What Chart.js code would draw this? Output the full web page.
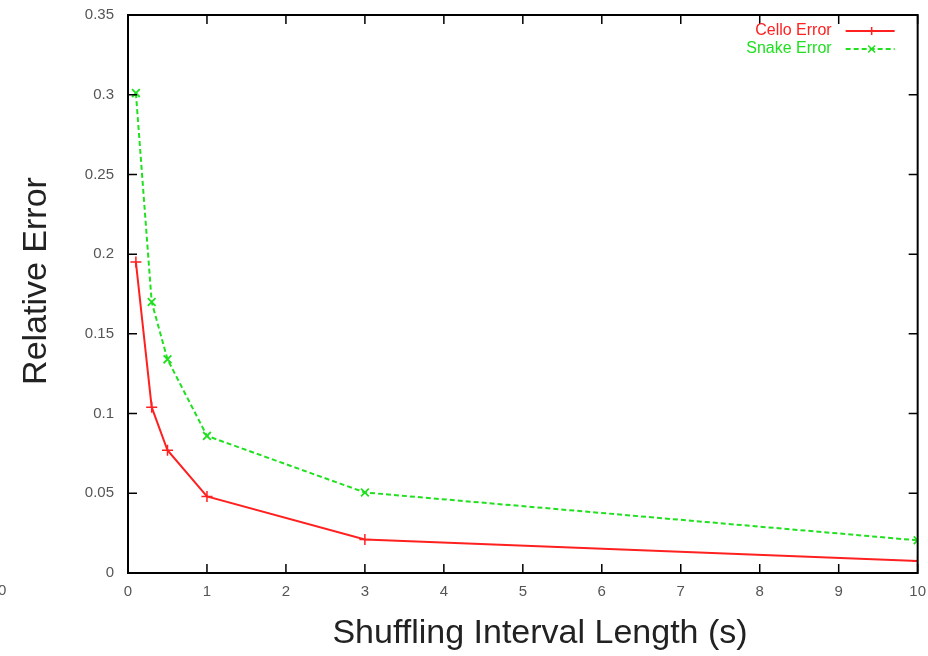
<!DOCTYPE html>
<html>
<head>
<meta charset="utf-8">
<script src="https://cdn.jsdelivr.net/npm/chart.js@4.4.0/dist/chart.umd.min.js"></script>
<style>
	html, body { margin: 0; padding: 0; background: #fff; }
	#wrap { width: 928px; height: 656px; }
</style>
</head>
<body>
<div id="wrap"><canvas id="chart" width="928" height="656"></canvas></div>
<script>
// shuffling interval lengths (s)
const intervals = [0.1, 0.3, 0.5, 1, 3, 10];
const celloError = [0.195, 0.104, 0.077, 0.048, 0.021, 0.0075];
const snakeError = [0.301, 0.170, 0.134, 0.086, 0.0505, 0.0205];
const xTicks = [0, 1, 2, 3, 4, 5, 6, 7, 8, 9, 10];
const yTicks = [0, 0.05, 0.1, 0.15, 0.2, 0.25, 0.3, 0.35];

const RED = "#ff2020";
const GREEN = "#20e020";
const FONT = "'Liberation Sans', Arial, sans-serif";

function toPoints(xs, ys) {
	return xs.map((x, i) => ({ x: x, y: ys[i] }));
}

// gnuplot style frame: full box with inward ticks on all four sides
const framePlugin = {
	id: "frame",
	afterDatasetsDraw(chart) {
		const ctx = chart.ctx;
		const a = chart.chartArea;
		const xs = chart.scales.x;
		const ys = chart.scales.y;
		ctx.save();
		ctx.strokeStyle = "#000";
		ctx.lineWidth = 2;
		ctx.strokeRect(a.left, a.top, a.right - a.left, a.bottom - a.top);
		ctx.lineWidth = 1.5;
		ctx.beginPath();
		xTicks.forEach((t) => {
			const px = xs.getPixelForValue(t);
			ctx.moveTo(px, a.bottom);
			ctx.lineTo(px, a.bottom - 9);
			ctx.moveTo(px, a.top);
			ctx.lineTo(px, a.top + 9);
		});
		yTicks.forEach((t) => {
			const py = ys.getPixelForValue(t);
			ctx.moveTo(a.left, py);
			ctx.lineTo(a.left + 9, py);
			ctx.moveTo(a.right, py);
			ctx.lineTo(a.right - 9, py);
		});
		ctx.stroke();

		// legend, top right inside the box
		ctx.font = "16px " + FONT;
		ctx.textAlign = "right";
		ctx.textBaseline = "middle";
		chart.data.datasets.forEach((ds, i) => {
			const y = a.top + 16 + i * 18;
			ctx.fillStyle = ds.borderColor;
			ctx.fillText(ds.label, a.right - 86, y);
			ctx.strokeStyle = ds.borderColor;
			ctx.lineWidth = 2;
			ctx.setLineDash(ds.borderDash || []);
			ctx.beginPath();
			ctx.moveTo(a.right - 72, y);
			ctx.lineTo(a.right - 23, y);
			ctx.stroke();
			ctx.setLineDash([]);
			const cx = a.right - 46;
			ctx.lineWidth = 1.5;
			ctx.beginPath();
			if (ds.pointStyle === "cross") {
				ctx.moveTo(cx - 4, y); ctx.lineTo(cx + 4, y);
				ctx.moveTo(cx, y - 4); ctx.lineTo(cx, y + 4);
			} else {
				ctx.moveTo(cx - 3.5, y - 3.5); ctx.lineTo(cx + 3.5, y + 3.5);
				ctx.moveTo(cx - 3.5, y + 3.5); ctx.lineTo(cx + 3.5, y - 3.5);
			}
			ctx.stroke();
		});

		// axis titles
		ctx.fillStyle = "#222";
		ctx.font = "34px " + FONT;
		ctx.textAlign = "center";
		ctx.textBaseline = "middle";
		ctx.fillText("Shuffling Interval Length (s)", 540, 634);
		ctx.save();
		ctx.translate(37, 281);
		ctx.rotate(-Math.PI / 2);
		ctx.fillText("Relative Error", 0, 0);
		ctx.restore();

		// stray tick label left over at the image edge
		ctx.fillStyle = "#555";
		ctx.font = "15px " + FONT;
		ctx.textAlign = "left";
		ctx.fillText("0", -2, 591);
		ctx.restore();
	},
};

new Chart(document.getElementById("chart"), {
	type: "line",
	data: {
		datasets: [
			{
				label: "Cello Error",
				data: toPoints(intervals, celloError),
				borderColor: RED,
				backgroundColor: RED,
				borderWidth: 2,
				pointStyle: "cross",
				pointRadius: 5.5,
				pointBorderWidth: 1.5,
				tension: 0,
			},
			{
				label: "Snake Error",
				data: toPoints(intervals, snakeError),
				borderColor: GREEN,
				backgroundColor: GREEN,
				borderWidth: 2,
				borderDash: [5, 3],
				pointStyle: "crossRot",
				pointRadius: 5.5,
				pointBorderWidth: 1.8,
				tension: 0,
			},
		],
	},
	options: {
		responsive: false,
		animation: false,
		layout: { padding: { left: 0, right: 5, top: 5, bottom: 0 } },
		plugins: {
			legend: { display: false },
			tooltip: { enabled: false },
		},
		scales: {
			x: {
				type: "linear",
				min: 0,
				max: 10,
				border: { display: false },
				grid: { display: false },
				afterBuildTicks(scale) {
					scale.ticks = xTicks.map((v) => ({ value: v }));
				},
				afterFit(scale) {
					scale.height = 83;
				},
				ticks: {
					color: "#555",
					font: { family: FONT, size: 15 },
					padding: 2,
					maxRotation: 0,
				},
			},
			y: {
				type: "linear",
				min: 0,
				max: 0.35,
				border: { display: false },
				grid: { display: false },
				afterBuildTicks(scale) {
					scale.ticks = yTicks.map((v) => ({ value: v }));
				},
				afterFit(scale) {
					scale.width = 128;
				},
				ticks: {
					color: "#555",
					font: { family: FONT, size: 15 },
					padding: 6,
					callback: (v) => String(Number(v.toFixed(2))),
				},
			},
		},
	},
	plugins: [framePlugin],
});
</script>
</body>
</html>
